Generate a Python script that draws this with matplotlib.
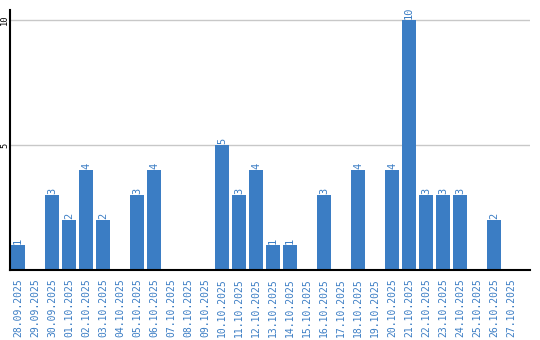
import matplotlib.pyplot as plt
import numpy as np

dates = ['28.09.2025', '29.09.2025', '30.09.2025', '01.10.2025', '02.10.2025',
         '03.10.2025', '04.10.2025', '05.10.2025', '06.10.2025', '07.10.2025',
         '08.10.2025', '09.10.2025', '10.10.2025', '11.10.2025', '12.10.2025',
         '13.10.2025', '14.10.2025', '15.10.2025', '16.10.2025', '17.10.2025',
         '18.10.2025', '19.10.2025', '20.10.2025', '21.10.2025', '22.10.2025',
         '23.10.2025', '24.10.2025', '25.10.2025', '26.10.2025', '27.10.2025']
counts = [1, 0, 3, 2, 4, 2, 0, 3, 4, 0,
          0, 0, 5, 3, 4, 1, 1, 0, 3, 0,
          4, 0, 4, 10, 3, 3, 3, 0, 2, 0]
yticks = [5, 10]

blue = '#3b7dc4'
mono = 'DejaVu Sans Mono'

fig = plt.figure(figsize=(5.4, 3.4), dpi=100)
ax = fig.add_axes([10/540, 70/340, 520/540, 260/340])

x = np.arange(len(dates))
ax.bar(x, counts, width=14/17, color=blue, zorder=2)

# value labels above the bars
for xi, c in zip(x, counts):
    if c > 0:
        ax.annotate(str(c), (xi, c), xytext=(0, 1), textcoords='offset points',
                    ha='center', va='bottom', rotation=90, color=blue,
                    fontsize=7.5, family=mono)

ax.set_xlim(-0.47, 30.12)
ax.set_ylim(0, 10.4)
ax.set_xticks(x)
ax.set_xticklabels(dates, rotation=90, color=blue, fontsize=7, family=mono)
ax.set_yticks(yticks)
ax.set_yticklabels([str(t) for t in yticks], rotation=90, fontsize=6.3,
                   family=mono, va='center')
ax.tick_params(axis='both', length=0)
ax.tick_params(axis='x', pad=6)
ax.tick_params(axis='y', pad=0.5)
ax.yaxis.grid(True, color='#c8c8c8', linewidth=1, zorder=0)

for side in ['top', 'right']:
    ax.spines[side].set_visible(False)
ax.spines['left'].set_linewidth(1.5)
ax.spines['bottom'].set_linewidth(1.5)

fig.savefig('out.png', dpi=100)
